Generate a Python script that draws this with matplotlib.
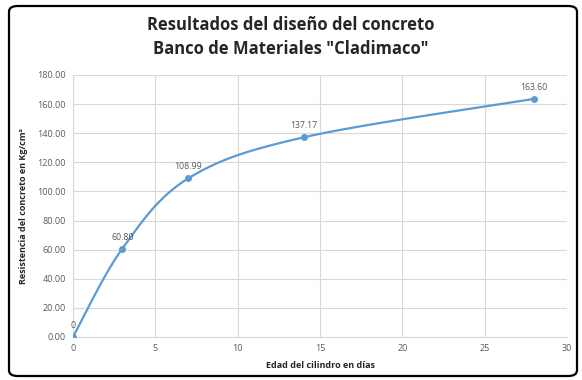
import numpy as np
import matplotlib
matplotlib.use("Agg")
import matplotlib.pyplot as plt
from matplotlib.patches import FancyBboxPatch

# data
dias = [0, 3, 7, 14, 28]
resistencia = [0.0, 60.80, 108.99, 137.17, 163.60]
etiquetas = ["0", "60.80", "108.99", "137.17", "163.60"]
yticks = [0, 20, 40, 60, 80, 100, 120, 140, 160, 180]
xticks = [0, 5, 10, 15, 20, 25, 30]

BLUE = "#5B9BD5"
GRAY = "#595959"
plt.rcParams["font.family"] = ["Open Sans", "DejaVu Sans"]

def smooth(x, y, n=40):
    # Excel-like smoothed line: cubic Bezier through points (Catmull-Rom, 1/6)
    P = np.column_stack([x, y]).astype(float)
    P = np.vstack([P[0], P, P[-1]])
    out = []
    t = np.linspace(0, 1, n)[:, None]
    for i in range(1, len(P) - 2):
        p0, p3 = P[i], P[i + 1]
        c1 = p0 + (P[i + 1] - P[i - 1]) / 6
        c2 = p3 - (P[i + 2] - P[i]) / 6
        seg = (1 - t) ** 3 * p0 + 3 * (1 - t) ** 2 * t * c1 + 3 * (1 - t) * t ** 2 * c2 + t ** 3 * p3
        out.append(seg)
    s = np.vstack(out)
    return s[:, 0], s[:, 1]

fig = plt.figure(figsize=(5.82, 3.80), dpi=100)
box = FancyBboxPatch((9/582, 1 - 376/380), 568/582, 370/380,
                     boxstyle="round,pad=0,rounding_size=0.015",
                     transform=fig.transFigure, fc="white", ec="black", lw=1.6, zorder=-10)
fig.patches.append(box)
ax = fig.add_axes([73/582, 43/380, 494/582, 262/380])
ax.set_facecolor("none")
ax.set_zorder(5)

sx, sy = smooth(dias, resistencia)
ax.plot(sx, sy, color=BLUE, lw=1.6, solid_capstyle="round", zorder=3)
ax.plot(dias, resistencia, "o", color=BLUE, ms=4, zorder=4)
for x, y, t in zip(dias, resistencia, etiquetas):
    ax.annotate(t, (x, y), textcoords="offset points", xytext=(0, 5), ha="center", va="bottom",
                fontsize=6.3, color=GRAY)

ax.set_xlim(0, 30); ax.set_ylim(0, 180)
ax.set_xticks(xticks); ax.set_yticks(yticks)
ax.set_yticklabels([f"{v:.2f}" for v in yticks])
ax.tick_params(length=0, labelsize=6.5, colors=GRAY, pad=5)
ax.grid(color="#D9D9D9", lw=0.8)
ax.set_axisbelow(True)
for s in ("top", "right"):
    ax.spines[s].set_visible(False)
for s in ("left", "bottom"):
    ax.spines[s].set_color("#D9D9D9")

ax.set_xlabel("Edad del cilindro en días", fontsize=6.5, fontweight="bold", color="#262626", labelpad=6)
ax.set_ylabel("Resistencia del concreto en Kg/cm²", fontsize=6.5, fontweight="bold", color="#262626", labelpad=7)
fig.text(0.5, 1 - 37/380, "Resultados del diseño del concreto\nBanco de Materiales \"Cladimaco\"",
         ha="center", va="center", fontsize=12, fontweight="bold", color="#262626", linespacing=1.5,
         zorder=6)

fig.savefig("out.png", dpi=100)
